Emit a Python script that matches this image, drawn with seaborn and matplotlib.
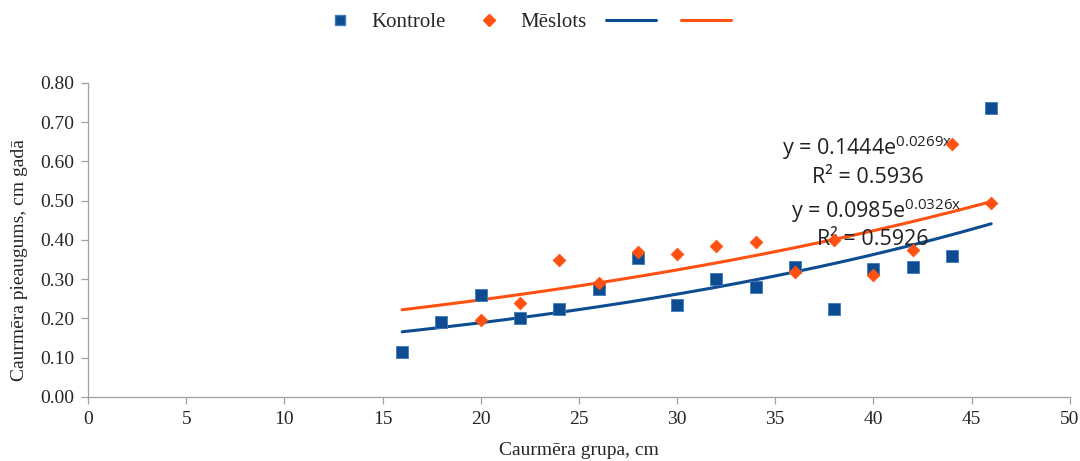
import numpy as np
import pandas as pd
import matplotlib
matplotlib.use("Agg")
import matplotlib.pyplot as plt
import seaborn as sns
from matplotlib.lines import Line2D

# Diameter groups and yearly diameter increment per treatment
kontrole_x = [16, 18, 20, 22, 24, 26, 28, 30, 32, 34, 36, 38, 40, 42, 44, 46]
kontrole_y = [0.115, 0.19, 0.26, 0.20, 0.225, 0.275, 0.355, 0.235, 0.30, 0.28,
              0.33, 0.225, 0.325, 0.33, 0.36, 0.735]
meslots_x = [20, 22, 24, 26, 28, 30, 32, 34, 36, 38, 40, 42, 44, 46]
meslots_y = [0.195, 0.24, 0.35, 0.29, 0.37, 0.365, 0.385, 0.395, 0.318, 0.40,
             0.31, 0.375, 0.645, 0.495]

# Exponential trend coefficients (a * e^(b*x)) and R²
kontrole_fit = (0.0985, 0.0326, 0.5926)
meslots_fit = (0.1444, 0.0269, 0.5936)

x_ticks = [0, 5, 10, 15, 20, 25, 30, 35, 40, 45, 50]
y_ticks = [0.0, 0.1, 0.2, 0.3, 0.4, 0.5, 0.6, 0.7, 0.8]

BLUE = "#0E4C92"
ORANGE = "#FF5212"

sns.set_theme(style="white")
plt.rcParams["font.family"] = ["Liberation Serif", "DejaVu Serif"]
plt.rcParams["mathtext.default"] = "regular"

fig = plt.figure(figsize=(10.8, 4.61), dpi=100)
ax = fig.add_axes([0.0815, 0.139, 0.909, 0.681])

df_k = pd.DataFrame({"x": kontrole_x, "y": kontrole_y})
df_m = pd.DataFrame({"x": meslots_x, "y": meslots_y})

sns.scatterplot(data=df_k, x="x", y="y", marker="s", s=70, color=BLUE,
                edgecolor="#3F7CC0", linewidth=0.6, ax=ax, zorder=3)
sns.scatterplot(data=df_m, x="x", y="y", marker="D", s=45, color=ORANGE,
                edgecolor=ORANGE, linewidth=0.3, ax=ax, zorder=4)

xf = np.linspace(16, 46, 200)
trend_k = pd.DataFrame({"x": xf, "y": kontrole_fit[0] * np.exp(kontrole_fit[1] * xf)})
trend_m = pd.DataFrame({"x": xf, "y": meslots_fit[0] * np.exp(meslots_fit[1] * xf)})
sns.lineplot(data=trend_k, x="x", y="y", color=BLUE, linewidth=2.2, ax=ax, zorder=2)
sns.lineplot(data=trend_m, x="x", y="y", color=ORANGE, linewidth=2.2, ax=ax, zorder=2)

ax.set_xlim(0, 50)
ax.set_ylim(0, 0.8)
ax.set_xticks(x_ticks)
ax.set_yticks(y_ticks)
ax.set_xticklabels([str(v) for v in x_ticks], fontsize=14)
ax.set_yticklabels([f"{v:.2f}" for v in y_ticks], fontsize=14)
ax.set_xlabel("Caurmēra grupa, cm", fontsize=14, labelpad=10)
ax.set_ylabel("Caurmēra pieaugums, cm gadā", fontsize=14)
ax.yaxis.set_label_coords(-0.061, 0.436)

for side in ("top", "right"):
    ax.spines[side].set_visible(False)
for side in ("left", "bottom"):
    ax.spines[side].set_color("#A0A0A0")
    ax.spines[side].set_linewidth(0.9)
ax.tick_params(axis="both", which="major", direction="out", length=5, width=0.9,
               color="#A0A0A0", pad=5, bottom=True, left=True)
ax.grid(False)

eq_font = dict(family=["Open Sans", "DejaVu Sans"], fontsize=15.5, color="#222222",
               ha="center", va="center")
ax.text(39.7, 0.634, f"y = {meslots_fit[0]:.4f}e$^{{{meslots_fit[1]:.4f}x}}$", **eq_font)
ax.text(39.7, 0.560, f"R² = {meslots_fit[2]:.4f}", **eq_font)
ax.text(40.15, 0.474, f"y = {kontrole_fit[0]:.4f}e$^{{{kontrole_fit[1]:.4f}x}}$", **eq_font)
ax.text(39.95, 0.400, f"R² = {kontrole_fit[2]:.4f}", **eq_font)

handles = [
    Line2D([], [], marker="s", linestyle="none", markersize=7, color=BLUE,
           markeredgecolor="#3F7CC0"),
    Line2D([], [], marker="D", linestyle="none", markersize=6, color=ORANGE),
    Line2D([], [], color=BLUE, linewidth=2.2),
    Line2D([], [], color=ORANGE, linewidth=2.2),
]
fig.legend(handles, ["Kontrole", "Mēslots", "", ""], loc="center",
           bbox_to_anchor=(0.487, 0.952), ncol=4, frameon=False, fontsize=15,
           handlelength=2.4, columnspacing=0.9, handletextpad=0.3)

fig.savefig("out.png", dpi=100, facecolor="white")
